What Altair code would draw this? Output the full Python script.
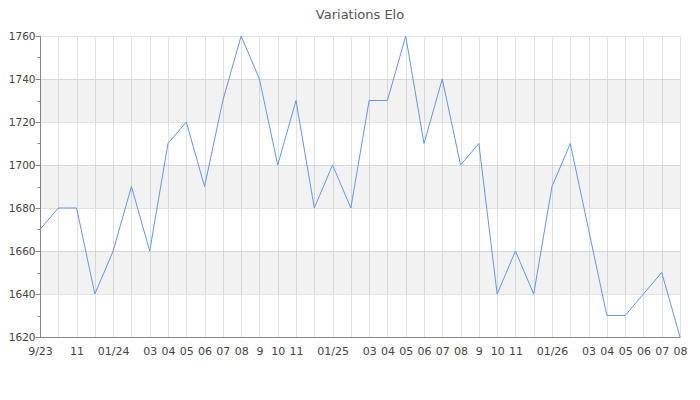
import json
import altair as alt
import pandas as pd

# monthly Elo, Sep 2023 .. Aug 2026
month_labels = ["9/23", "", "11", "", "01/24", "", "03", "04", "05", "06", "07", "08",
                "9", "10", "11", "", "01/25", "", "03", "04", "05", "06", "07", "08",
                "9", "10", "11", "", "01/26", "", "03", "04", "05", "06", "07", "08"]
elo = [1670, 1680, 1680, 1640, 1660, 1690, 1660, 1710, 1720, 1690, 1730, 1760,
       1740, 1700, 1730, 1680, 1700, 1680, 1730, 1730, 1760, 1710, 1740, 1700,
       1710, 1640, 1660, 1640, 1690, 1710, 1670, 1630, 1630, 1640, 1650, 1620]

band_lo = [1640, 1680, 1720]
band_hi = [1660, 1700, 1740]

FONT = "DejaVu Sans"

df = pd.DataFrame({"idx": list(range(len(elo))), "elo": elo})
bands = pd.DataFrame({"lo": band_lo, "hi": band_hi})

y_scale = alt.Scale(domain=[1620, 1760], nice=False, zero=False)
x_scale = alt.Scale(domain=[0, len(elo) - 1], nice=False, zero=False)

label_expr = json.dumps(month_labels) + "[datum.value]"

band_layer = alt.Chart(bands).mark_rect(color="black", opacity=0.05).encode(
    y=alt.Y("lo:Q", scale=y_scale,
            axis=alt.Axis(orient="left", values=list(range(1620, 1761, 10)),
                          labels=False, grid=False, domain=False, title=None,
                          tickSize=3, tickColor="#888")),
    y2="hi:Q",
)

line_layer = alt.Chart(df).mark_line(color="#6495ed", strokeWidth=1).encode(
    x=alt.X("idx:Q", scale=x_scale,
            axis=alt.Axis(values=list(range(len(elo))), labelExpr=label_expr,
                          ticks=False, grid=True, gridColor="#e2e2e2",
                          domainColor="#888", labelPadding=8, labelFlush=False,
                          labelOverlap=False, labelFontSize=11, title=None)),
    y=alt.Y("elo:Q", scale=y_scale,
            axis=alt.Axis(orient="left", values=list(range(1620, 1761, 20)),
                          format="d", grid=True, gridColor="#e2e2e2",
                          domainColor="#888", tickColor="#888", tickSize=5,
                          labelPadding=0, labelFontSize=10.5, title=None)),
)

chart = alt.layer(band_layer, line_layer).resolve_axis(y="independent").properties(
    width=640,
    height=301,
    autosize=alt.AutoSizeParams(type="none"),
    padding={"left": 32, "top": 28, "right": 8, "bottom": 40},
    title=alt.TitleParams("Variations Elo", font=FONT, fontSize=13,
                          fontWeight="normal", color="#555", offset=9),
).configure_axis(
    labelFont=FONT, labelColor="#444",
).configure_view(strokeWidth=0)

chart.save("out.html", embed_options={"renderer": "svg", "actions": False})
